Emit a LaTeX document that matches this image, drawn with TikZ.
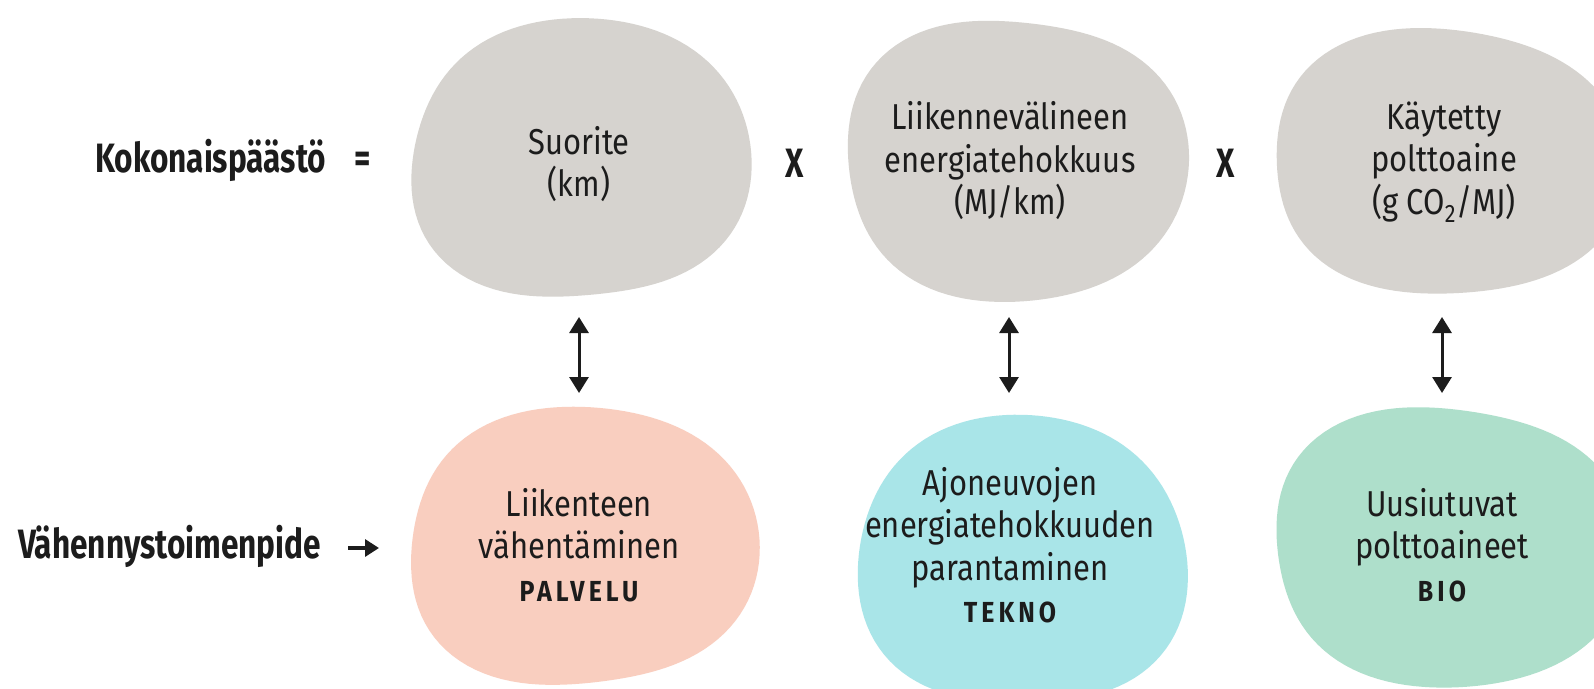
\documentclass[tikz,border=0pt]{standalone}
\usepackage{fontspec}
\usetikzlibrary{arrows.meta}
\setmainfont{Fira Sans}[FakeStretch=0.86]
\newfontfamily\labfont{Fira Sans}[FakeStretch=0.77]
\definecolor{ink}{HTML}{1C1C1C}
\definecolor{graybl}{HTML}{D6D3CF}
\definecolor{pinkbl}{HTML}{F9CEBF}
\definecolor{cyanbl}{HTML}{A9E5E8}
\definecolor{greenbl}{HTML}{AEDFCB}
% #1 colour, #2 cx, #3 cy, #4 rx, #5 ry, #6 phase2, #7 phase3
\newcommand{\blobshape}[7]{%
  \fill[#1] plot[samples at={0,3,...,357}, variable=\t]
    ({#2+#4*cos(\t)*(1-0.02*cos(4*\t)+0.03*cos(2*\t-#6)+0.025*cos(3*\t-#7))},
     {#3+#5*sin(\t)*(1-0.02*cos(4*\t)+0.03*cos(2*\t-#6)+0.025*cos(3*\t-#7))}) -- cycle;}
\begin{document}
\begin{tikzpicture}[x=1pt,y=-1pt,
  txt/.style={align=center,text=ink,font=\fontsize{36}{42.5}\selectfont,inner sep=0pt},
  lab/.style={text=ink,font=\labfont\bfseries\fontsize{41}{48}\selectfont,inner sep=0pt},
  dbl/.style={line width=3pt,draw=ink,{Triangle[width=19pt,length=16pt]}-{Triangle[width=19pt,length=16pt]}},
  sgl/.style={line width=3.2pt,draw=ink,-{Triangle[width=17pt,length=14pt]}}]
\newcommand{\tagtext}[1]{{\bfseries\fontsize{29}{42.5}\selectfont\addfontfeature{LetterSpace=14}#1}}
\fill[white] (0,0) rectangle (1594,688);
\useasboundingbox (0,0) rectangle (1594,688);
\clip (0,0) rectangle (1594,688);
% blobs top row
\blobshape{graybl}{580}{160}{169}{145}{-40}{60}
\blobshape{graybl}{1015}{160}{169}{147}{20}{-30}
\blobshape{graybl}{1448}{162}{175}{138}{40}{10}
% blobs bottom row
\blobshape{pinkbl}{582}{547}{173}{145}{-30}{30}
\blobshape{cyanbl}{1022}{562}{163}{151}{10}{80}
\blobshape{greenbl}{1450}{547}{177}{145}{50}{-20}
% texts in blobs
\node[txt] (t1) at (579,164) {Suorite\\(km)};
\node[txt] (t2) at (1010,161) {Liikennevälineen\\energiatehokkuus\\(MJ/km)};
\node[txt] (t3) at (1444,162) {Käytetty\\polttoaine\\(g CO\textsubscript{2}/MJ)};
\node[txt] (b1) at (579,545) {Liikenteen\\vähentäminen\\\tagtext{PALVELU}};
\node[txt] (b2) at (1010,545) {Ajoneuvojen\\energiatehokkuuden\\parantaminen\\\tagtext{TEKNO}};
\node[txt] (b3) at (1442,545) {Uusiutuvat\\polttoaineet\\\tagtext{BIO}};
% left labels and operators
\node[lab,anchor=base west] (kok) at (95,172) {Kokonaispäästö};
\node[lab,anchor=base] (eq) at (363,172) {=};
\node[lab,anchor=base] (x1) at (795,177) {X};
\node[lab,anchor=base] (x2) at (1226,177) {X};
\node[lab,anchor=base west] (vah) at (18,558) {Vähennystoimenpide};
% connectors
\coordinate (h1) at (348,548);
\coordinate (h2) at (379,548);
\draw[sgl] (h1) -- (h2);
\coordinate (a1t) at (579,317);
\coordinate (a1b) at (579,393);
\coordinate (a2t) at (1009,317);
\coordinate (a2b) at (1009,393);
\coordinate (a3t) at (1442,317);
\coordinate (a3b) at (1442,393);
\draw[dbl] (a1t) -- (a1b);
\draw[dbl] (a2t) -- (a2b);
\draw[dbl] (a3t) -- (a3b);
\end{tikzpicture}
\end{document}
